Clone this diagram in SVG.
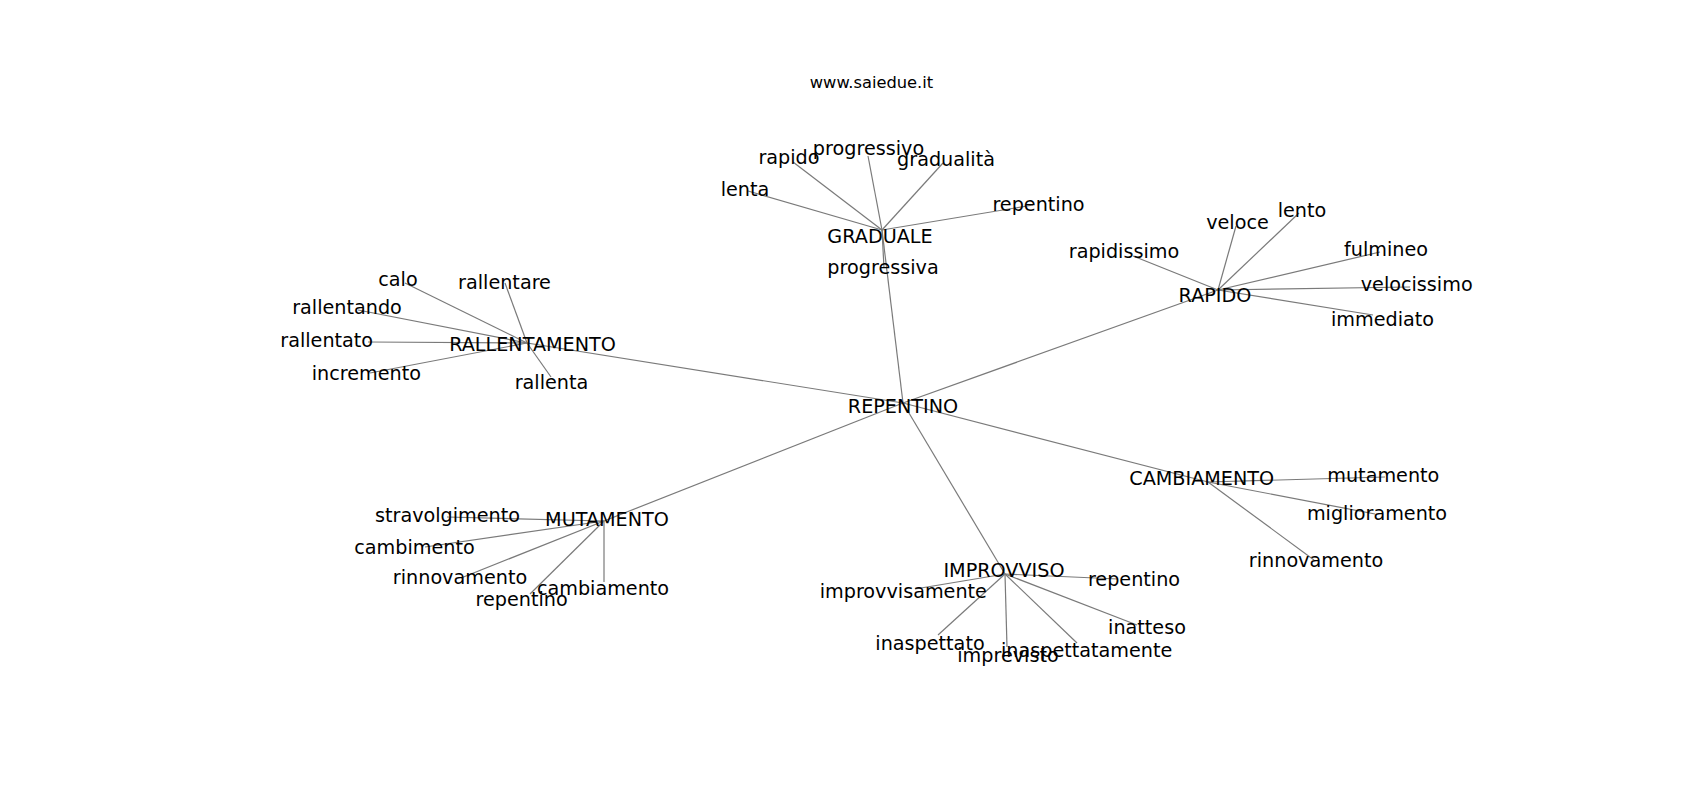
<svg xmlns="http://www.w3.org/2000/svg" width="1700" height="800" viewBox="0 0 1700 800">
<style>
.e{stroke:#7a7a7a;stroke-width:1.2;fill:none}
text{font-family:"DejaVu Sans","Liberation Sans",sans-serif;font-size:19.2px;fill:#000;text-anchor:middle}
.t{font-size:16.3px}
</style>
<rect width="1700" height="800" fill="#fff"/>
<g id="connectors">
<line class="e" x1="903" y1="403" x2="882" y2="230"/>
<line class="e" x1="903" y1="403" x2="1218" y2="290"/>
<line class="e" x1="903" y1="403" x2="527" y2="343"/>
<line class="e" x1="903" y1="403" x2="604" y2="521"/>
<line class="e" x1="903" y1="403" x2="1005" y2="574"/>
<line class="e" x1="903" y1="403" x2="1208" y2="482"/>
<line class="e" x1="882" y1="230" x2="748" y2="191"/>
<line class="e" x1="882" y1="230" x2="793" y2="162"/>
<line class="e" x1="882" y1="230" x2="868" y2="156"/>
<line class="e" x1="882" y1="230" x2="943" y2="163"/>
<line class="e" x1="882" y1="230" x2="1033" y2="205"/>
<line class="e" x1="882" y1="230" x2="884" y2="268"/>
<line class="e" x1="527" y1="343" x2="405" y2="283"/>
<line class="e" x1="527" y1="343" x2="505" y2="283"/>
<line class="e" x1="527" y1="343" x2="358" y2="310"/>
<line class="e" x1="527" y1="343" x2="368" y2="342"/>
<line class="e" x1="527" y1="343" x2="370" y2="373"/>
<line class="e" x1="527" y1="343" x2="551" y2="377"/>
<line class="e" x1="1218" y1="290" x2="1236" y2="226"/>
<line class="e" x1="1218" y1="290" x2="1299" y2="213"/>
<line class="e" x1="1218" y1="290" x2="1133" y2="256"/>
<line class="e" x1="1218" y1="290" x2="1380" y2="252"/>
<line class="e" x1="1218" y1="290" x2="1410" y2="287"/>
<line class="e" x1="1218" y1="290" x2="1373" y2="315"/>
<line class="e" x1="1208" y1="482" x2="1385" y2="477"/>
<line class="e" x1="1208" y1="482" x2="1375" y2="514"/>
<line class="e" x1="1208" y1="482" x2="1314" y2="560"/>
<line class="e" x1="604" y1="521" x2="447" y2="517"/>
<line class="e" x1="604" y1="521" x2="425" y2="547"/>
<line class="e" x1="604" y1="521" x2="461" y2="578"/>
<line class="e" x1="604" y1="521" x2="530" y2="594"/>
<line class="e" x1="604" y1="521" x2="604" y2="582"/>
<line class="e" x1="1005" y1="574" x2="915" y2="589"/>
<line class="e" x1="1005" y1="574" x2="1118" y2="579"/>
<line class="e" x1="1005" y1="574" x2="1137" y2="625"/>
<line class="e" x1="1005" y1="574" x2="1077" y2="643"/>
<line class="e" x1="1005" y1="574" x2="1007" y2="647"/>
<line class="e" x1="1005" y1="574" x2="938" y2="635"/>
</g>
<text class="t" x="871.5" y="88">www.saiedue.it</text>
<g id="n-repentino"><text x="903" y="413">REPENTINO</text></g>
<g id="n-graduale"><text x="880" y="243">GRADUALE</text></g>
<g id="n-g-lenta"><text x="745" y="196">lenta</text></g>
<g id="n-g-rapido"><text x="789" y="164">rapido</text></g>
<g id="n-g-progressivo"><text x="868.5" y="155">progressivo</text></g>
<g id="n-g-gradualita"><text x="946" y="166">gradualità</text></g>
<g id="n-g-repentino"><text x="1038.5" y="210.5">repentino</text></g>
<g id="n-g-progressiva"><text x="883" y="274">progressiva</text></g>
<g id="n-rallentamento"><text x="532.5" y="350.5">RALLENTAMENTO</text></g>
<g id="n-r-calo"><text x="398" y="286">calo</text></g>
<g id="n-r-rallentare"><text x="504.5" y="288.5">rallentare</text></g>
<g id="n-r-rallentando"><text x="347" y="313.5">rallentando</text></g>
<g id="n-r-rallentato"><text x="326.7" y="346.5">rallentato</text></g>
<g id="n-r-incremento"><text x="366.4" y="380">incremento</text></g>
<g id="n-r-rallenta"><text x="551.5" y="388.5">rallenta</text></g>
<g id="n-rapido"><text x="1215" y="301.5">RAPIDO</text></g>
<g id="n-p-veloce"><text x="1237.5" y="228.5">veloce</text></g>
<g id="n-p-lento"><text x="1302" y="216.5">lento</text></g>
<g id="n-p-rapidissimo"><text x="1124" y="257.5">rapidissimo</text></g>
<g id="n-p-fulmineo"><text x="1386" y="256">fulmineo</text></g>
<g id="n-p-velocissimo"><text x="1416.7" y="291">velocissimo</text></g>
<g id="n-p-immediato"><text x="1382.5" y="325.5">immediato</text></g>
<g id="n-cambiamento"><text x="1201.7" y="485">CAMBIAMENTO</text></g>
<g id="n-c-mutamento"><text x="1383.3" y="481.5">mutamento</text></g>
<g id="n-c-miglioramento"><text x="1377" y="520">miglioramento</text></g>
<g id="n-c-rinnovamento"><text x="1316" y="566.5">rinnovamento</text></g>
<g id="n-mutamento"><text x="607" y="526">MUTAMENTO</text></g>
<g id="n-m-stravolgimento"><text x="447.5" y="521.5">stravolgimento</text></g>
<g id="n-m-cambimento"><text x="414.5" y="554">cambimento</text></g>
<g id="n-m-rinnovamento"><text x="460" y="584">rinnovamento</text></g>
<g id="n-m-repentino"><text x="521.6" y="605.8">repentino</text></g>
<g id="n-m-cambiamento"><text x="603" y="595">cambiamento</text></g>
<g id="n-improvviso"><text x="1004" y="577.3">IMPROVVISO</text></g>
<g id="n-i-improvvisamente"><text x="903.3" y="598.3">improvvisamente</text></g>
<g id="n-i-repentino"><text x="1134" y="586">repentino</text></g>
<g id="n-i-inatteso"><text x="1147" y="634">inatteso</text></g>
<g id="n-i-inaspettatamente"><text x="1086.7" y="656.7">inaspettatamente</text></g>
<g id="n-i-imprevisto"><text x="1008" y="661.7">imprevisto</text></g>
<g id="n-i-inaspettato"><text x="930" y="650">inaspettato</text></g>
</svg>
